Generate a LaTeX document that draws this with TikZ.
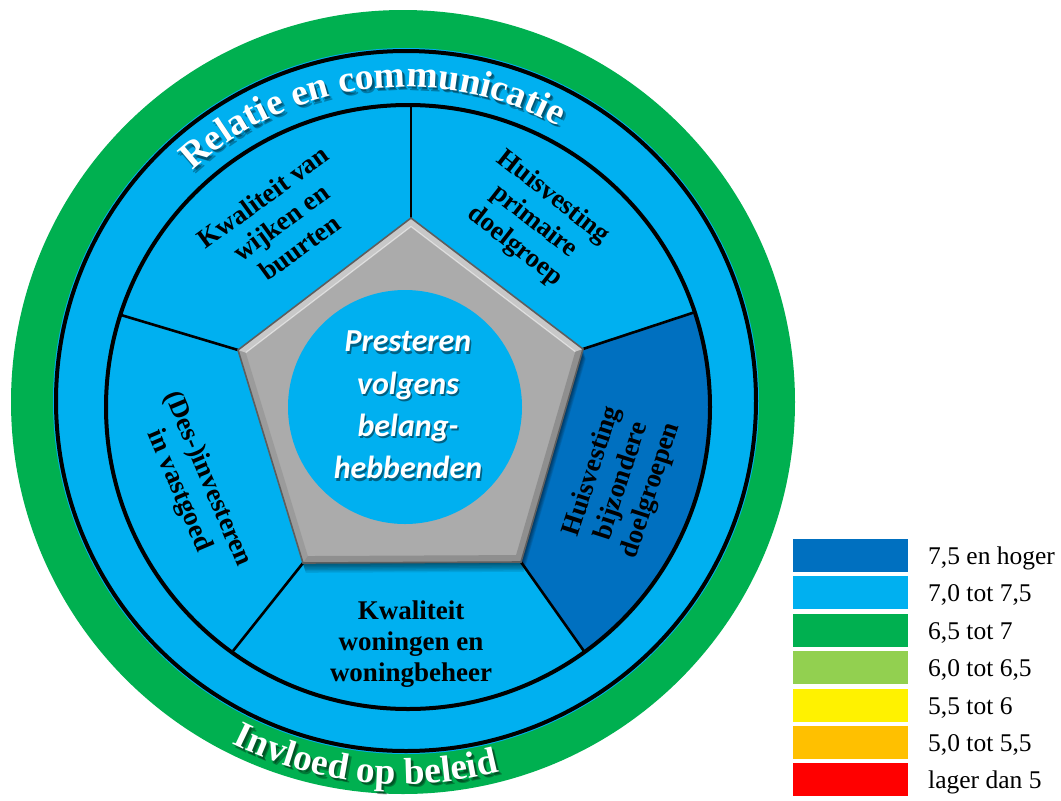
\documentclass[tikz,border=0pt]{standalone}
\usepackage{fontspec}
\setmainfont{Liberation Serif}
\newfontfamily\calibfont{Carlito}
\usetikzlibrary{decorations.text,calc}

\definecolor{ringgreen}{HTML}{00B050}
\definecolor{skyblue}{HTML}{00B0F0}
\definecolor{deepblue}{HTML}{0070C0}
\definecolor{lightgreen}{HTML}{92D050}
\definecolor{amber}{HTML}{FFC000}
\definecolor{pentgray}{HTML}{ABABAB}
\definecolor{pentedge}{HTML}{5E5E5E}

\newcommand\ringfont{\bfseries\fontsize{37.5}{40}\selectfont}

\tikzset{
  spoke/.style={line width=2.6pt, black},
  ringline/.style={line width=4pt, black},
  segtext/.style={font=\bfseries\fontsize{27}{31}\selectfont, align=center, inner sep=0pt, text=black},
  centertext/.style={font=\calibfont\bfseries\itshape\fontsize{32}{42.3}\selectfont, align=center, inner sep=0pt},
  legbox/.style={minimum width=115pt, minimum height=33pt, inner sep=0pt, draw=none},
  legtext/.style={font=\fontsize{25.5}{28}\selectfont, anchor=base west, inner sep=0pt},
  toptext/.style={decorate, decoration={text along path, text align=center, text color=#1,
      text={|\ringfont|Relatie en communicatie}}},
  bottomtext/.style={decorate, decoration={text along path, text align=center, text color=#1,
      text={|\ringfont|Invloed op beleid}}},
}

\begin{document}
\begin{tikzpicture}[x=1pt,y=1pt]
\useasboundingbox (0,0) rectangle (1061,-801);

% centres of the rings
\coordinate (G) at (403,-402);
\coordinate (B) at (406,-401);
\coordinate (I) at (408,-407);

% outer green ring and blue ring
\fill[ringgreen] (G) circle[radius=392];
\fill[skyblue] (B) circle[radius=353];

% pentagon corners
\coordinate (P1) at (411,-218);
\coordinate (P2) at (583,-349);
\coordinate (P3) at (521,-562);
\coordinate (P4) at (303,-563);
\coordinate (P5) at (238,-350);
\coordinate (Pc) at (411,-408);

% spoke ends on the inner circle
\coordinate (S1) at (411,-104);
\coordinate (S2) at (694.7,-312.2);
\coordinate (S3) at (584.6,-652);
\coordinate (S4) at (233,-651);
\coordinate (S5) at (121,-315);

% dark segment: Huisvesting bijzondere doelgroepen
\fill[deepblue] (P2) -- (S2) arc[start angle=18.3, end angle=-54.2, radius=302] -- (P3) -- cycle;

% spokes
\draw[spoke] (P1) -- (S1);
\draw[spoke] (P2) -- (S2);
\draw[spoke] (P3) -- (S3);
\draw[spoke] (P4) -- (S4);
\draw[spoke] (P5) -- (S5);

% ring outlines
\draw[ringline] (B) circle[radius=350];
\draw[ringline] (I) circle[radius=302];

% soft shadow under the pentagon
\foreach \k in {1,...,7} {
  \fill[black, opacity=0.09]
    ([xshift=0.4*\k pt, yshift=-1.4*\k pt]P1) -- ([xshift=0.4*\k pt, yshift=-1.4*\k pt]P2) --
    ([xshift=0.4*\k pt, yshift=-1.4*\k pt]P3) -- ([xshift=0.4*\k pt, yshift=-1.4*\k pt]P4) --
    ([xshift=0.4*\k pt, yshift=-1.4*\k pt]P5) -- cycle;
}

% pentagon body
\fill[pentgray] (P1) -- (P2) -- (P3) -- (P4) -- (P5) -- cycle;

% bevel: darker rim on lower and right edges, light rim on the upper edges
\coordinate (Q1) at ($(Pc)!0.955!(P1)$);
\coordinate (Q2) at ($(Pc)!0.955!(P2)$);
\coordinate (Q3) at ($(Pc)!0.955!(P3)$);
\coordinate (Q4) at ($(Pc)!0.955!(P4)$);
\coordinate (Q5) at ($(Pc)!0.955!(P5)$);
\fill[pentgray!70!black, opacity=0.55] (P2) -- (P3) -- (P4) -- (Q4) -- (Q3) -- (Q2) -- cycle;
\fill[pentgray!75!black, opacity=0.35] (P4) -- (P5) -- (Q5) -- (Q4) -- cycle;
\fill[white, opacity=0.35] (P5) -- (P1) -- (P2) -- (Q2) -- (Q1) -- (Q5) -- cycle;
\draw[white, opacity=0.5, line width=1.2pt] (Q5) -- (Q1) -- (Q2);
\draw[pentedge, line width=1.6pt, line join=miter] (P1) -- (P2) -- (P3) -- (P4) -- (P5) -- cycle;

% central disc
\fill[skyblue] (405,-407) circle[radius=117];

% central text with its shadow
\node[centertext, text=black, opacity=0.45] (ctrshadow) at (409.5,-407.5)
  {Presteren\\volgens\\belang-\\hebbenden};
\node[centertext, text=white] (ctr) at (408,-405)
  {Presteren\\volgens\\belang-\\hebbenden};

% segment labels
\node[segtext, rotate=36] (kwb) at (281,-222) {Kwaliteit van\\wijken en\\buurten};
\node[segtext, rotate=-38] (hpd) at (534,-222) {Huisvesting\\primaire\\doelgroep};
\node[segtext, rotate=-67] (dig) at (193,-485) {(Des-)investeren\\in vastgoed};
\node[segtext, rotate=72] (hbd) at (622,-481) {Huisvesting\\bijzondere\\doelgroepen};
\node[segtext] (kww) at (411,-644) {Kwaliteit\\woningen en\\woningbeheer};

% ring titles, each with a soft shadow
\foreach \dx/\dy in {3/-3.5, 1.8/-2.2} {
  \begin{scope}[opacity=0.3]
    \path[toptext=black] ([shift={(150:314)}, xshift=\dx pt, yshift=\dy pt]B)
      arc[start angle=150, end angle=44, radius=314];
    \path[bottomtext=black] ([shift={(210:382)}, xshift=\dx pt, yshift=\dy pt]G)
      arc[start angle=210, end angle=318, radius=382];
  \end{scope}
}
\path[toptext=white] ([shift={(150:314)}]B) arc[start angle=150, end angle=44, radius=314];
\path[bottomtext=white] ([shift={(210:382)}]G) arc[start angle=210, end angle=318, radius=382];

% legend
\foreach \i/\col/\lab in {0/deepblue/{7,5 en hoger}, 1/skyblue/{7,0 tot 7,5}, 2/ringgreen/{6,5 tot 7},
    3/lightgreen/{6,0 tot 6,5}, 4/yellow/{5,5 tot 6}, 5/amber/{5,0 tot 5,5}, 6/red/{lager dan 5}} {
  \node[legbox, fill=\col] (key\i) at (850.5,-555.5-37.4*\i) {};
  \node[legtext] (lab\i) at (928,-564.5-37.4*\i) {\lab};
}
\end{tikzpicture}
\end{document}
